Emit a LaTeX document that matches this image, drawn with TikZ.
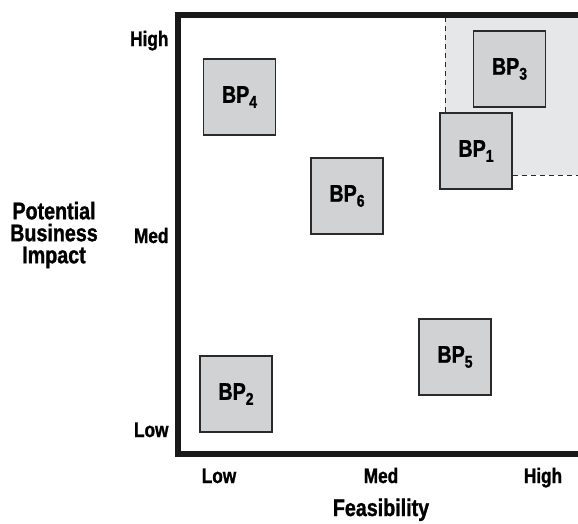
\documentclass[tikz,border=0pt]{standalone}
\usepackage{fontspec}
\setmainfont{Liberation Sans}[FakeStretch=0.82,BoldFeatures={FakeBold=1.2}]
\definecolor{boxgray}{HTML}{D1D2D4}
\definecolor{zonegray}{HTML}{E6E7E9}
\definecolor{edgegray}{HTML}{2A2A2A}
\newcommand{\bpsub}[1]{\raisebox{-5pt}{\fontsize{17}{17}\selectfont #1}}
\tikzset{
  bpbox/.style={draw=edgegray,fill=boxgray,line width=1.2pt,minimum width=72pt,minimum height=76pt,inner sep=0pt,font=\fontsize{24}{26}\selectfont\bfseries},
  tick/.style={font=\fontsize{21}{23}\selectfont\bfseries,anchor=base},
  axis/.style={font=\fontsize{24}{25}\selectfont\bfseries,align=center}
}
\begin{document}
\begin{tikzpicture}[x=1pt,y=-1pt]
  \useasboundingbox (0,0) rectangle (578,523);
  % Target zone
  \fill[zonegray] (445,17) rectangle (578,175);
  % Boxes
  \node[bpbox] (bp4) at (239.5,97) {BP\bpsub{4}};
  \node[bpbox] (bp3) at (509.5,69) {BP\bpsub{3}};
  \node[bpbox] (bp1) at (476,151) {BP\bpsub{1}};
  \node[bpbox] (bp6) at (347,196) {BP\bpsub{6}};
  \node[bpbox] (bp5) at (455,357) {BP\bpsub{5}};
  \node[bpbox] (bp2) at (236,394) {BP\bpsub{2}};
  % Dashed edges of the zone
  \coordinate (zt) at (445,17);
  \coordinate (zr) at (578,175);
  \draw[edgegray,line width=1pt,dash pattern=on 5pt off 4pt] (zt) -- (zt |- bp1.north);
  \draw[edgegray,line width=1pt,dash pattern=on 5pt off 4pt] (bp1.east |- zr) -- (zr);
  % Frame
  \draw[line width=6pt,black!90] (578,14.5) -- (178,14.5) -- (178,453.5) -- (578,453.5);
  % Vertical axis
  \node[tick,anchor=base east] (yhigh) at (172,46) {High};
  \node[tick,anchor=base east] (ymed) at (172,243) {Med};
  \node[tick,anchor=base east] (ylow) at (172,437) {Low};
  \node[axis] (ylab) at (54,235) {Potential\\[-3pt]Business\\[-3pt]Impact};
  % Horizontal axis
  \node[tick] (xlow) at (219,483) {Low};
  \node[tick] (xmed) at (381,483) {Med};
  \node[tick] (xhigh) at (543,483) {High};
  \node[axis,anchor=base] (xlab) at (381,516) {Feasibility};
\end{tikzpicture}
\end{document}
